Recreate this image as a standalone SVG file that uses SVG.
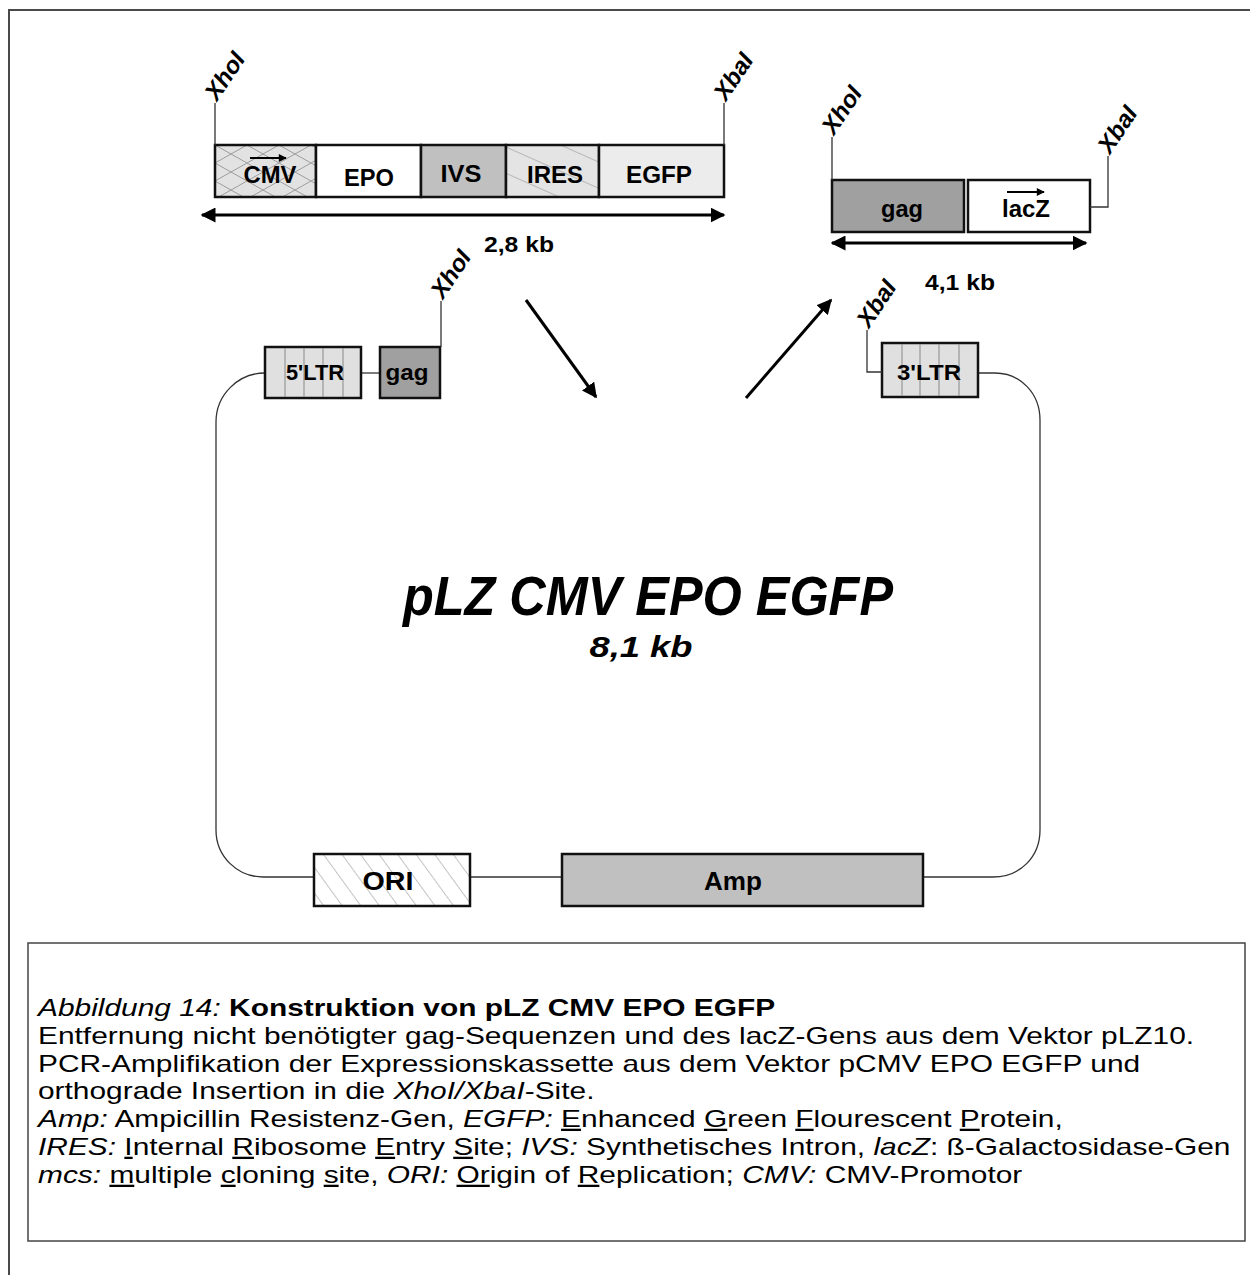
<svg xmlns="http://www.w3.org/2000/svg" width="1250" height="1275" viewBox="0 0 1250 1275">
<style>
.frame{fill:none;stroke:#4a4a4a;stroke-width:2}
.box{stroke:#111;stroke-width:2.5}
.thin{fill:none;stroke:#333;stroke-width:1.3}
.lbl{font-family:"Liberation Sans",Arial,sans-serif;font-weight:bold;fill:#000;text-anchor:middle}
.site{font-family:"Liberation Sans",Arial,sans-serif;font-weight:bold;font-style:italic;font-size:24px;fill:#000}
.big{font-family:"Liberation Sans",Arial,sans-serif;font-weight:bold;font-style:italic;fill:#000;text-anchor:middle}
.cap{font-family:"Liberation Sans",Arial,sans-serif;font-size:23px;fill:#000}
.arr{fill:none;stroke:#000;stroke-width:3}
.sarr{fill:none;stroke:#000;stroke-width:2}
.stripe{stroke:#888;stroke-width:1}
</style>
<defs>
<marker id="ah" viewBox="0 0 10 10" refX="9" refY="5" markerWidth="5" markerHeight="5" orient="auto-start-reverse"><path d="M0,0 L10,5 L0,10 z" fill="#000"/></marker>
<marker id="ahs" viewBox="0 0 10 10" refX="9" refY="5" markerWidth="4.5" markerHeight="4" orient="auto"><path d="M0,0 L10,5 L0,10 z" fill="#000"/></marker>
<pattern id="xhatch" x="215" y="145" width="32" height="18" patternUnits="userSpaceOnUse"><rect width="32" height="18" fill="#e2e2e2"/><path d="M0,0 L32,18 M0,18 L32,0" stroke="#8a8a8a" stroke-width="0.8"/></pattern>
<pattern id="ires" width="30" height="24" patternUnits="userSpaceOnUse" patternTransform="rotate(24)"><rect width="30" height="24" fill="#e4e4e4"/><line x1="0" y1="0" x2="30" y2="0" stroke="#8a8a8a" stroke-width="1"/></pattern>
<pattern id="ori" width="20" height="15" patternUnits="userSpaceOnUse" patternTransform="rotate(54)"><rect width="20" height="15" fill="#fff"/><line x1="0" y1="0" x2="20" y2="0" stroke="#8a8a8a" stroke-width="1"/></pattern>
</defs>

<rect class="frame" x="9" y="10" width="1300" height="1300"/>

<g id="connectors">
  <path class="thin" d="M265,373 C238,373 216,395 216,422 L216,830 C216,857 238,877 263,877 L314,877"/>
  <path class="thin" d="M470,877 L562,877"/>
  <path class="thin" d="M923,877 L993,877 C1020,877 1040,857 1040,830 L1040,420 C1040,393 1020,373 995,373 L978,373"/>
  <path class="thin" d="M361,373 L380,373"/>
  <path class="arr" d="M202,215 L724,215" marker-start="url(#ah)" marker-end="url(#ah)"/>
  <path class="arr" d="M832,243 L1086,243" marker-start="url(#ah)" marker-end="url(#ah)"/>
  <path class="arr" d="M526,300 L596,397" marker-end="url(#ah)"/>
  <path class="arr" d="M746,398 L831,300" marker-end="url(#ah)"/>
</g>

<g id="insert-cassette">
  <rect class="box" x="215" y="145" width="101" height="52" fill="url(#xhatch)"/>
  <rect class="box" x="316" y="145" width="105" height="52" fill="#fff"/>
  <rect class="box" x="421" y="145" width="85" height="52" fill="#c0c0c0"/>
  <rect class="box" x="506" y="145" width="93" height="52" fill="url(#ires)"/>
  <rect class="box" x="599" y="145" width="125" height="52" fill="#ececec"/>
  <path class="sarr" d="M250,158 L286,158" marker-end="url(#ahs)"/>
  <text class="lbl" x="270" y="183" font-size="23" textLength="53" lengthAdjust="spacingAndGlyphs">CMV</text>
  <text class="lbl" x="369" y="186" font-size="23" textLength="50" lengthAdjust="spacingAndGlyphs">EPO</text>
  <text class="lbl" x="461" y="182" font-size="23" textLength="41" lengthAdjust="spacingAndGlyphs">IVS</text>
  <text class="lbl" x="555" y="183" font-size="23" textLength="56" lengthAdjust="spacingAndGlyphs">IRES</text>
  <text class="lbl" x="659" y="183" font-size="23" textLength="66" lengthAdjust="spacingAndGlyphs">EGFP</text>
  <path class="thin" d="M215,145 L215,103 M724,145 L724,103"/>
  <text class="site" transform="translate(217,102) rotate(-56)">XhoI</text>
  <text class="site" transform="translate(726,102) rotate(-56)">XbaI</text>
  <text class="lbl" x="519" y="252" font-size="22" textLength="70" lengthAdjust="spacingAndGlyphs">2,8 kb</text>
</g>

<g id="removed-fragment">
  <rect class="box" x="832" y="180" width="132" height="52" fill="#a0a0a0"/>
  <rect class="box" x="968" y="180" width="122" height="52" fill="#fff"/>
  <path class="sarr" d="M1007,192 L1044,192" marker-end="url(#ahs)"/>
  <text class="lbl" x="902" y="217" font-size="23" textLength="42" lengthAdjust="spacingAndGlyphs">gag</text>
  <text class="lbl" x="1026" y="217" font-size="23" textLength="48" lengthAdjust="spacingAndGlyphs">lacZ</text>
  <path class="thin" d="M832,180 L832,137 M1090,207 L1108,207 L1108,156"/>
  <text class="site" transform="translate(834,136) rotate(-56)">XhoI</text>
  <text class="site" transform="translate(1110,155) rotate(-56)">XbaI</text>
  <text class="lbl" x="960" y="290" font-size="22" textLength="70" lengthAdjust="spacingAndGlyphs">4,1 kb</text>
</g>

<g id="ltr5">
  <rect class="box" x="265" y="347" width="96" height="51" fill="#e0e0e0"/>
  <path class="stripe" d="M285,348 V397 M304,348 V397 M323,348 V397 M343,348 V397"/>
  <text class="lbl" x="315" y="380" font-size="22" textLength="58" lengthAdjust="spacingAndGlyphs">5'LTR</text>
</g>
<g id="gag-left">
  <rect class="box" x="380" y="347" width="60" height="51" fill="#a0a0a0"/>
  <text class="lbl" x="407" y="380" font-size="22" textLength="43" lengthAdjust="spacingAndGlyphs">gag</text>
  <path class="thin" d="M441,347 L441,301"/>
  <text class="site" transform="translate(443,300) rotate(-56)">XhoI</text>
</g>
<g id="ltr3">
  <rect class="box" x="882" y="343" width="96" height="54" fill="#e0e0e0"/>
  <path class="stripe" d="M902,344 V396 M920,344 V396 M939,344 V396 M959,344 V396"/>
  <text class="lbl" x="929" y="380" font-size="22" textLength="64" lengthAdjust="spacingAndGlyphs">3'LTR</text>
  <path class="thin" d="M882,372 L867,372 L867,330"/>
  <text class="site" transform="translate(869,329) rotate(-56)">XbaI</text>
</g>
<g id="ori">
  <rect class="box" x="314" y="854" width="156" height="52" fill="url(#ori)"/>
  <text class="lbl" x="388" y="890" font-size="25" textLength="51" lengthAdjust="spacingAndGlyphs">ORI</text>
</g>
<g id="amp">
  <rect class="box" x="562" y="854" width="361" height="52" fill="#c0c0c0"/>
  <text class="lbl" x="733" y="890" font-size="25" textLength="58" lengthAdjust="spacingAndGlyphs">Amp</text>
</g>
<g id="plasmid-title">
  <text class="big" x="648" y="615" font-size="55" textLength="490" lengthAdjust="spacingAndGlyphs">pLZ CMV EPO EGFP</text>
  <text class="big" x="641" y="657" font-size="30" textLength="103" lengthAdjust="spacingAndGlyphs">8,1 kb</text>
</g>

<g id="caption">
  <rect x="28" y="943" width="1217" height="298" fill="none" stroke="#444" stroke-width="1.5"/>
  <g transform="translate(38,0) scale(1.3,1)">
    <text class="cap" x="0" y="1016"><tspan font-style="italic">Abbildung 14:</tspan> <tspan font-weight="bold">Konstruktion von pLZ CMV EPO EGFP</tspan></text>
    <text class="cap" x="0" y="1044">Entfernung nicht benötigter gag-Sequenzen und des lacZ-Gens aus dem Vektor pLZ10.</text>
    <text class="cap" x="0" y="1072">PCR-Amplifikation der Expressionskassette aus dem Vektor pCMV EPO EGFP und</text>
    <text class="cap" x="0" y="1099">orthograde Insertion in die <tspan font-style="italic">XhoI/XbaI</tspan>-Site.</text>
    <text class="cap" x="0" y="1127"><tspan font-style="italic">Amp:</tspan> Ampicillin Resistenz-Gen,  <tspan font-style="italic">EGFP:</tspan> <tspan text-decoration="underline">E</tspan>nhanced <tspan text-decoration="underline">G</tspan>reen <tspan text-decoration="underline">F</tspan>lourescent <tspan text-decoration="underline">P</tspan>rotein,</text>
    <text class="cap" x="0" y="1155"><tspan font-style="italic">IRES:</tspan> <tspan text-decoration="underline">I</tspan>nternal <tspan text-decoration="underline">R</tspan>ibosome <tspan text-decoration="underline">E</tspan>ntry <tspan text-decoration="underline">S</tspan>ite; <tspan font-style="italic">IVS:</tspan> Synthetisches Intron, <tspan font-style="italic">lacZ</tspan>: ß-Galactosidase-Gen</text>
    <text class="cap" x="0" y="1183"><tspan font-style="italic">mcs:</tspan> <tspan text-decoration="underline">m</tspan>ultiple <tspan text-decoration="underline">c</tspan>loning <tspan text-decoration="underline">s</tspan>ite, <tspan font-style="italic">ORI:</tspan> <tspan text-decoration="underline">Or</tspan>igin of <tspan text-decoration="underline">R</tspan>eplication; <tspan font-style="italic">CMV:</tspan> CMV-Promotor</text>
  </g>
</g>
</svg>
